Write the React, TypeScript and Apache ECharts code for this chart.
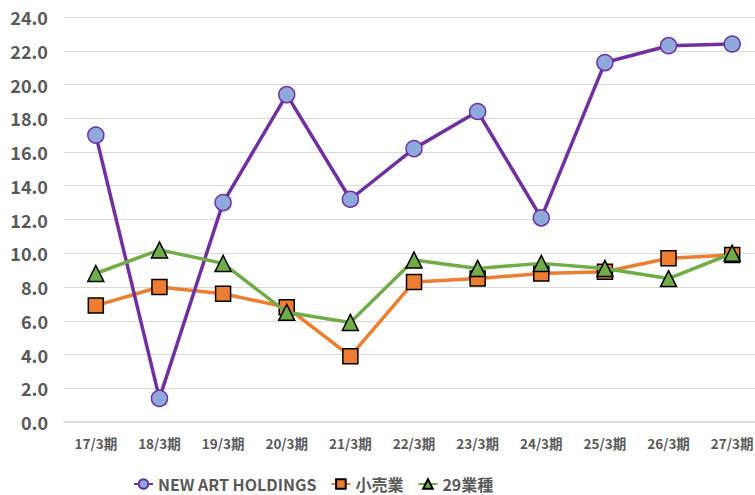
import React, { useEffect, useRef } from "react";
import * as echarts from "echarts";

const categories = ["17/3期", "18/3期", "19/3期", "20/3期", "21/3期", "22/3期", "23/3期", "24/3期", "25/3期", "26/3期", "27/3期"];
const newArt = [17.0, 1.4, 13.0, 19.4, 13.2, 16.2, 18.4, 12.1, 21.3, 22.3, 22.4];
const retail = [6.9, 8.0, 7.6, 6.8, 3.9, 8.3, 8.5, 8.8, 8.9, 9.7, 9.9];
const industries29 = [8.8, 10.2, 9.4, 6.5, 5.9, 9.6, 9.1, 9.4, 9.1, 8.5, 10.0];
const seriesNames = ["NEW ART HOLDINGS", "小売業", "29業種"];

const FONT = "'Noto Sans CJK JP', 'Noto Sans', sans-serif";
const GRAY = "#595959";

export default function App() {
  const ref = useRef<HTMLDivElement>(null);
  useEffect(() => {
    if (!ref.current) return;
    const chart = echarts.init(ref.current, null, { renderer: "svg" });
    chart.setOption({
      animation: false,
      backgroundColor: "#ffffff",
      grid: { left: 64, right: 16, top: 17, bottom: 73, containLabel: false },
      legend: {
        left: 128,
        top: 470,
        itemWidth: 19,
        itemHeight: 12,
        itemGap: 14,
        textStyle: { color: GRAY, fontFamily: FONT, fontSize: 16, fontWeight: "bold", lineHeight: 18 },
        data: seriesNames,
      },
      xAxis: {
        type: "category",
        data: categories,
        boundaryGap: true,
        axisLine: { show: true, lineStyle: { color: "#d9d9d9", width: 1.5 } },
        axisTick: { show: false },
        axisLabel: { color: GRAY, fontFamily: FONT, fontSize: 13.5, fontWeight: "bold", margin: 14, interval: 0 },
      },
      yAxis: {
        type: "value",
        min: 0,
        max: 24,
        interval: 2,
        axisLine: { show: false },
        axisTick: { show: false },
        splitLine: { lineStyle: { color: "#d9d9d9", width: 1.2 } },
        axisLabel: {
          color: GRAY,
          fontFamily: FONT,
          fontSize: 18,
          fontWeight: "bold",
          margin: 16,
          formatter: (v: number) => v.toFixed(1),
        },
      },
      series: [
        {
          name: seriesNames[0],
          type: "line",
          data: newArt,
          symbol: "circle",
          symbolSize: 16,
          lineStyle: { color: "#7030A0", width: 3.5 },
          itemStyle: { color: "#8EA9DB", borderColor: "#7030A0", borderWidth: 1.5 },
          z: 3,
        },
        {
          name: seriesNames[1],
          type: "line",
          data: retail,
          symbol: "rect",
          symbolSize: 15,
          lineStyle: { color: "#ED7D31", width: 3.5 },
          itemStyle: { color: "#ED7D31", borderColor: "#000000", borderWidth: 1.5 },
          z: 2,
        },
        {
          name: seriesNames[2],
          type: "line",
          data: industries29,
          symbol: "triangle",
          symbolSize: 16,
          lineStyle: { color: "#70AD47", width: 3.5 },
          itemStyle: { color: "#70AD47", borderColor: "#000000", borderWidth: 1.5 },
          z: 4,
        },
      ],
    });
    return () => chart.dispose();
  }, []);
  return (
    <div style={{ width: 755, height: 495, position: "absolute", left: 0, top: 0, overflow: "hidden" }}>
      <div ref={ref} style={{ width: 780, height: 495 }} />
    </div>
  );
}
